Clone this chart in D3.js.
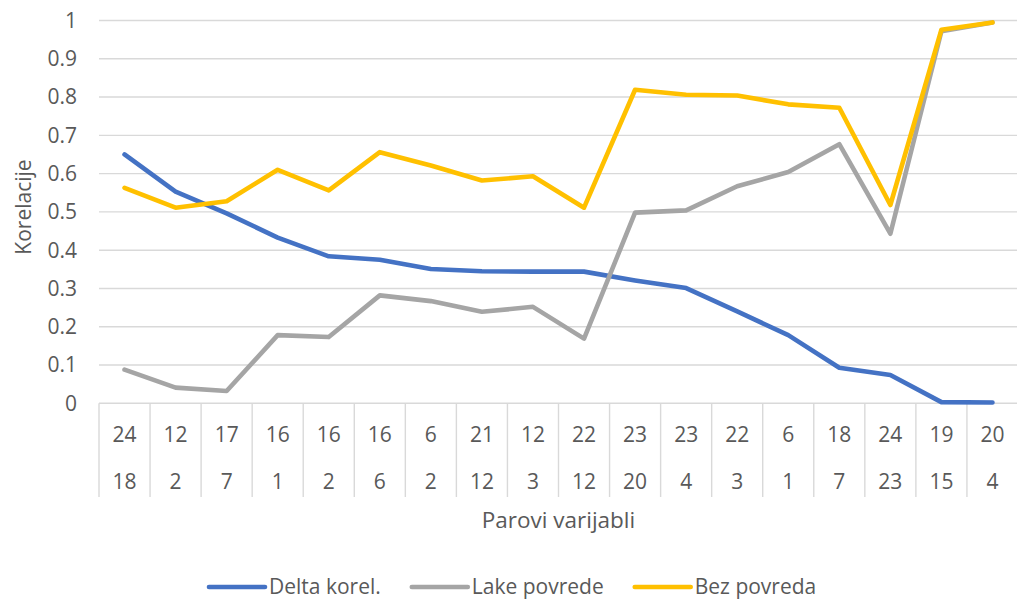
<!DOCTYPE html>
<html>
<head>
<meta charset="utf-8">
<script src="https://cdn.jsdelivr.net/npm/d3@7"></script>
<style>
  html, body { margin: 0; padding: 0; background: #fff; }
  svg { display: block; font-family: "Open Sans", sans-serif; }
</style>
</head>
<body>
<div id="chart"></div>
<script>
// variable pairs (two-level category axis)
const pairTop = ["24", "12", "17", "16", "16", "16", "6", "21", "12", "22", "23", "23", "22", "6", "18", "24", "19", "20"];
const pairBottom = ["18", "2", "7", "1", "2", "6", "2", "12", "3", "12", "20", "4", "3", "1", "7", "23", "15", "4"];

const deltaKorel = [0.650, 0.553, 0.496, 0.433, 0.384, 0.375, 0.351, 0.345, 0.344, 0.344, 0.321, 0.301, 0.240, 0.178, 0.093, 0.074, 0.003, 0.002];
const lakePovrede = [0.088, 0.041, 0.032, 0.178, 0.173, 0.282, 0.267, 0.239, 0.252, 0.169, 0.498, 0.504, 0.567, 0.604, 0.677, 0.443, 0.972, 0.995];
const bezPovreda = [0.563, 0.511, 0.528, 0.610, 0.556, 0.656, 0.621, 0.582, 0.593, 0.511, 0.819, 0.806, 0.804, 0.781, 0.772, 0.518, 0.976, 0.995];

const yTicks = [0, 0.1, 0.2, 0.3, 0.4, 0.5, 0.6, 0.7, 0.8, 0.9, 1];

const series = [
  {name: "Delta korel.", values: deltaKorel, color: "#4472C4"},
  {name: "Lake povrede", values: lakePovrede, color: "#A5A5A5"},
  {name: "Bez povreda", values: bezPovreda, color: "#FFC000"}
];

const width = 1017, height = 600;
const plotLeft = 99, plotRight = 1018, plotTop = 20.5, plotBottom = 403.3;
const textColor = "#595959", gridColor = "#d9d9d9";

const svg = d3.select("#chart").append("svg")
    .attr("width", width)
    .attr("height", height);

const x = d3.scaleBand()
    .domain(d3.range(pairTop.length))
    .range([plotLeft, plotRight])
    .paddingInner(0).paddingOuter(0);

const y = d3.scaleLinear()
    .domain([0, 1])
    .range([plotBottom, plotTop]);

const cx = i => x(i) + x.bandwidth() / 2;

// gridlines
svg.append("g")
    .attr("stroke", gridColor)
    .attr("stroke-width", 1.4)
  .selectAll("line")
  .data(yTicks)
  .join("line")
    .attr("x1", plotLeft)
    .attr("x2", plotRight)
    .attr("y1", d => y(d))
    .attr("y2", d => y(d));

// y tick labels
svg.append("g")
    .attr("fill", textColor)
    .attr("font-size", 21)
    .attr("text-anchor", "end")
  .selectAll("text")
  .data(yTicks)
  .join("text")
    .attr("x", 77)
    .attr("y", d => y(d))
    .attr("dy", "0.35em")
    .text(d => d3.format("~g")(d));

// category axis separators
const sepBottom = 497;
svg.append("g")
    .attr("stroke", gridColor)
    .attr("stroke-width", 1.4)
  .selectAll("line")
  .data(d3.range(pairTop.length + 1))
  .join("line")
    .attr("x1", i => i < pairTop.length ? x(i) : plotRight)
    .attr("x2", i => i < pairTop.length ? x(i) : plotRight)
    .attr("y1", plotBottom)
    .attr("y2", sepBottom);

const catLabels = svg.append("g")
    .attr("fill", textColor)
    .attr("font-size", 21)
    .attr("text-anchor", "middle");

catLabels.selectAll("text.top")
  .data(pairTop)
  .join("text")
    .attr("class", "top")
    .attr("x", (d, i) => cx(i))
    .attr("y", 442)
    .text(d => d);

catLabels.selectAll("text.bottom")
  .data(pairBottom)
  .join("text")
    .attr("class", "bottom")
    .attr("x", (d, i) => cx(i))
    .attr("y", 489)
    .text(d => d);

// axis titles
svg.append("text")
    .attr("x", (plotLeft + plotRight) / 2)
    .attr("y", 528)
    .attr("text-anchor", "middle")
    .attr("fill", textColor)
    .attr("font-size", 22.5)
    .text("Parovi varijabli");

svg.append("text")
    .attr("transform", "translate(31,207) rotate(-90)")
    .attr("text-anchor", "middle")
    .attr("fill", textColor)
    .attr("font-size", 21)
    .text("Korelacije");

// series lines
const line = d3.line()
    .x((d, i) => cx(i))
    .y(d => y(d));

svg.append("g")
    .attr("fill", "none")
    .attr("stroke-width", 4.6)
    .attr("stroke-linecap", "round")
    .attr("stroke-linejoin", "round")
  .selectAll("path")
  .data(series)
  .join("path")
    .attr("stroke", d => d.color)
    .attr("d", d => line(d.values));

// legend
const legend = svg.append("g")
    .attr("font-size", 21)
    .attr("fill", textColor);

let lx = 209;
series.forEach(s => {
  const item = legend.append("g");
  item.append("line")
      .attr("x1", lx).attr("x2", lx + 56)
      .attr("y1", 587).attr("y2", 587)
      .attr("stroke", s.color)
      .attr("stroke-width", 4.6)
      .attr("stroke-linecap", "round");
  const t = item.append("text")
      .attr("x", lx + 60)
      .attr("y", 594)
      .text(s.name);
  lx += 60 + t.node().getComputedTextLength() + 31;
});
</script>
</body>
</html>
